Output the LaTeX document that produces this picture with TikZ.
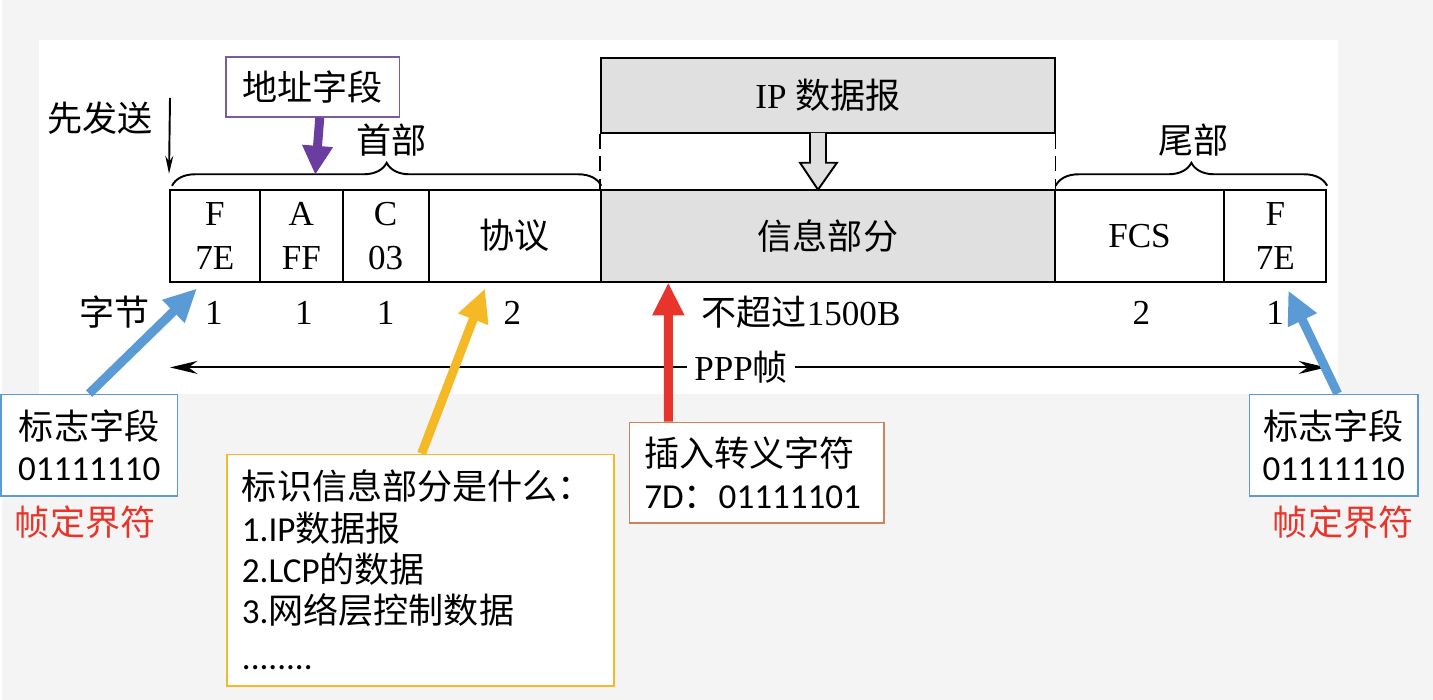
\documentclass[tikz,border=0pt]{standalone}
\usepackage{fontspec}
\setmainfont{Liberation Serif}
\newfontfamily\cjk{Noto Sans CJK SC}
\newfontfamily\boxfont{Carlito}
\usetikzlibrary{
  arrows.meta,
  positioning,
  calc,
  decorations.pathreplacing
}
\newcommand{\zh}[1]{{\cjk #1}}
\definecolor{pppBlue}{HTML}{5B9BD5}
\definecolor{pppYellow}{HTML}{F5B925}
\definecolor{pppRed}{HTML}{E8352B}
\definecolor{pppPurple}{HTML}{6A3DA0}
\definecolor{pppGray}{HTML}{E0E0E0}
\definecolor{pppBrown}{HTML}{D0825A}
\definecolor{pppLilac}{HTML}{7A5C9A}
\definecolor{pppSlide}{HTML}{F4F4F4}
\tikzset{
  % Frame cells
  cell/.style={
    draw,
    line width=1.1pt,
    inner sep=0pt,
    minimum height=1.84cm,
    align=center,
    font=\fontsize{20}{25}\selectfont
  },
  % Plain figure text
  figtext/.style={
    inner sep=1pt,
    font=\fontsize{20}{25}\selectfont
  },
  % Callout boxes
  callout/.style={
    draw,
    line width=0.9pt,
    fill=white,
    inner sep=0pt,
    font=\boxfont\fontsize{20}{23.5}\selectfont
  },
  % Thick coloured pointer
  pointer/.style={
    line width=0.18cm,
    -{Triangle[length=0.66cm, width=0.6cm]}
  },
  % Thin black arrow
  thinarrow/.style={
    line width=1.1pt,
    -{Stealth[length=0.5cm, width=0.24cm]}
  },
  % Braces over header and trailer
  bracepath/.style={
    decorate,
    decoration={brace, amplitude=0.46cm},
    line width=1.1pt
  },
  % Red note text
  rednote/.style={
    text=pppRed,
    inner sep=1pt,
    font=\cjk\fontsize{20}{24}\selectfont
  }
}

\begin{document}
\begin{tikzpicture}[x=0.02cm, y=-0.02cm]

%% === Background ===
\fill[pppSlide] (0,0) rectangle (1433,701);
\fill[white] (37,40) rectangle (1338,395);

%% === Frame ===
\node[cell, minimum width=1.8cm] (F1) at (213,236) {F\\7E};
\node[cell, minimum width=1.66cm] (A) at (299.5,236) {A\\FF};
\node[cell, minimum width=1.72cm] (C) at (384,236) {C\\03};
\node[cell, minimum width=3.46cm] (proto) at (513.5,236) {\zh{协议}};
\node[cell, minimum width=9.08cm, fill=pppGray] (info) at (827,236) {\zh{信息部分}};
\node[cell, minimum width=3.4cm] (fcs) at (1139,236) {FCS};
\node[cell, minimum width=2.04cm] (F2) at (1275,236) {F\\7E};

% IP datagram on top
\node[cell, minimum width=9.08cm, minimum height=1.5cm, fill=pppGray] (ip) at (827,95.5) {IP \zh{数据报}};
\draw[line width=1.1pt, dash pattern=on 0.3cm off 0.15cm] (ip.south west) -- (info.north west);
\draw[line width=1.1pt, dash pattern=on 0.3cm off 0.15cm] (ip.south east) -- (info.north east);
\draw[line width=1.1pt, fill=pppGray] (809,133) -- (809,163) -- (799,163) -- (817,190)
  -- (836,163) -- (825,163) -- (825,133);

% Braces
\draw[bracepath] ($(F1.north west)+(3,-3)$) -- ($(proto.north east)+(-1,-3)$);
\node[figtext] (head) at (390,140) {\zh{首部}};
\draw[bracepath] ($(fcs.north west)+(2,-3)$) -- ($(F2.north east)+(0,-3)$);
\node[figtext] (tail) at (1193,140) {\zh{尾部}};

% Sending order
\node[figtext] (first) at (98,118) {\zh{先发送}};
\coordinate (sendtop) at (168,98);
\draw[thinarrow, -{Stealth[length=0.36cm, width=0.16cm]}] (sendtop) -- ($(F1.north west)+(0,-15)$);

%% === Byte counts ===
\node[figtext] (bytes) at (112,313) {\zh{字节}};
\node[figtext] (b1) at (212,313) {1};
\node[figtext] (b2) at (302,313) {1};
\node[figtext] (b3) at (384,313) {1};
\node[figtext] (b4) at (511,313) {2};
\node[figtext] (b5) at (800,313) {\zh{不超过}1500B};
\node[figtext] (b6) at (1141,313) {2};
\node[figtext] (b7) at (1275,313) {1};

% Whole frame
\coordinate (pppL) at (168,368);
\coordinate (pppR) at (1326,368);
\draw[thinarrow, {Stealth[length=0.55cm, width=0.26cm]}-{Stealth[length=0.55cm, width=0.26cm]}] (pppL) -- (pppR);
\node[figtext, fill=white, inner xsep=4pt] (ppp) at (740,368) {PPP\zh{帧}};

%% === Callouts ===
\node[callout, draw=pppLilac, minimum width=3.48cm, minimum height=1.2cm,
      font=\cjk\fontsize{20}{24}\selectfont] (addr) at (311,87) {地址字段};
\draw[pointer, pppPurple, -{Triangle[length=0.58cm, width=0.58cm]}] ($(addr.south)+(7,0)$) -- ($(A.north)+(14,-14)$);

\node[callout, draw=pppBlue, minimum width=3.54cm, minimum height=2.04cm, align=center] (flagL) at (87,446)
  {\zh{标志字段}\\01111110};
\node[rednote] (delimL) at (83,523) {帧定界符};
\draw[pointer, pppBlue] (flagL.north) -- ($(F1.south)+(-18,6)$);

\node[callout, draw=pppBlue, minimum width=3.38cm, minimum height=2.04cm, align=center] (flagR) at (1333.5,446)
  {\zh{标志字段}\\01111110};
\node[rednote] (delimR) at (1343,523) {帧定界符};
\draw[pointer, pppBlue] ($(flagR.north)+(4,0)$) -- ($(F2.south)+(13,8)$);

\node[callout, draw=pppYellow, text width=7.16cm, inner xsep=0.3cm, minimum height=4.64cm, align=left] (what) at (419,571)
  {\zh{标识信息部分是什么：}\\1.IP\zh{数据报}\\2.LCP\zh{的数据}\\3.\zh{网络层控制数据}\\[3pt]........};
\draw[pointer, pppYellow] ($(what.north)+(1,0)$) -- ($(proto.south)+(-30,6)$);

\node[callout, draw=pppBrown, text width=4.5cm, inner xsep=0.3cm, minimum height=2.02cm, align=left] (esc) at (755.5,473.5)
  {\zh{插入转义字符}\\7D\zh{：}01111101};
\draw[pointer, pppRed] ($(esc.north west)+(40,0)$) -- ($(info.south west)+(68,0)$);

\end{tikzpicture}
\end{document}
